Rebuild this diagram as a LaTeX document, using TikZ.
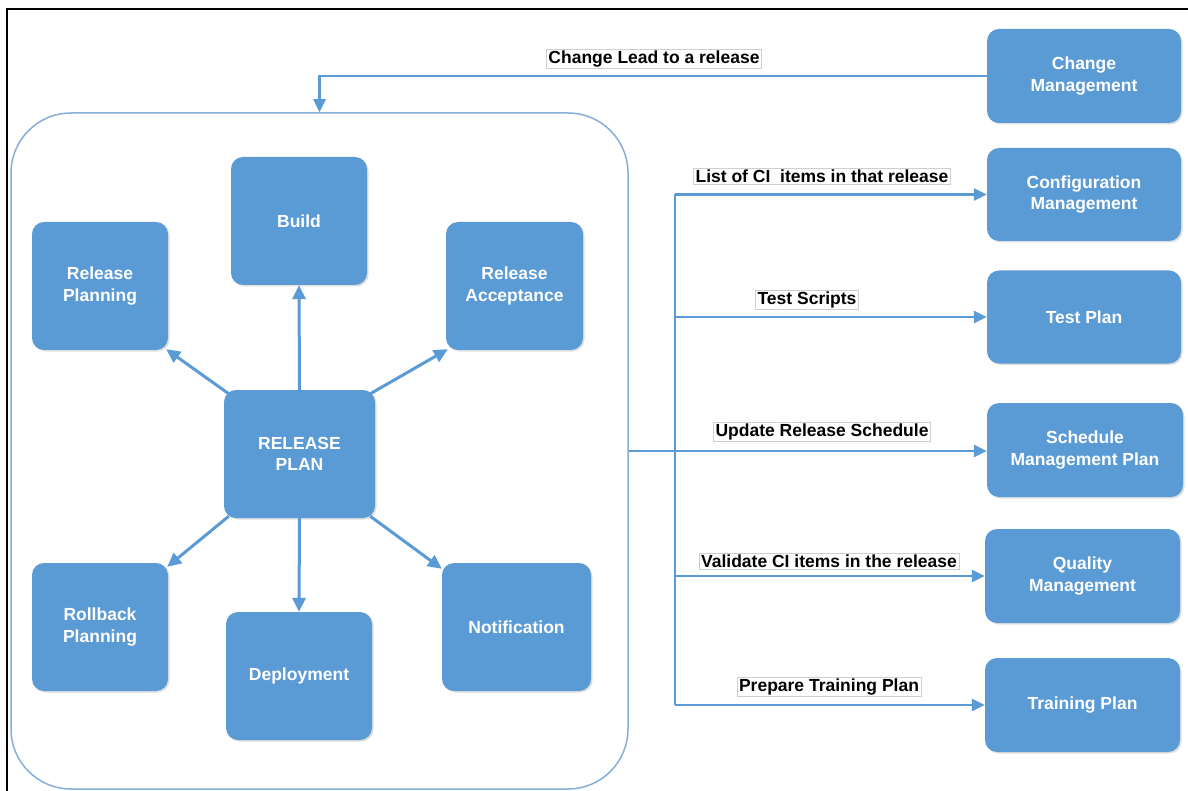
\documentclass[tikz,border=0pt]{standalone}
\usepackage{fontspec}
\setmainfont{Liberation Sans}
\usetikzlibrary{arrows.meta,shadows}
\definecolor{boxblue}{HTML}{5B9BD5}
\definecolor{lineblue}{HTML}{5B9BD5}
\definecolor{contblue}{HTML}{86AEDA}
\definecolor{labgray}{HTML}{CFCFCF}
\begin{document}
\begin{tikzpicture}[x=1pt,y=-1pt,
  box/.style={fill=boxblue, rounded corners=12pt, text=white,
    font=\bfseries\fontsize{17.5}{21.5}\selectfont, align=center, inner sep=0pt,
    drop shadow={opacity=0.25, shadow xshift=1.5pt, shadow yshift=-1.5pt}},
  container/.style={draw=contblue, line width=1.5pt, rounded corners=60pt, inner sep=0pt},
  conn/.style={draw=lineblue, line width=2.5pt, -{Triangle[length=13pt,width=12pt]}},
  star/.style={draw=lineblue, line width=3pt, -{Triangle[length=14pt,width=13pt]}},
  bus/.style={draw=lineblue, line width=2.5pt},
  lab/.style={fill=white, draw=labgray, line width=0.6pt,
    font=\bfseries\fontsize{17.5}{20}\selectfont, inner xsep=2pt, inner ysep=1.5pt}]
\useasboundingbox (0,0) rectangle (1188,791);
\fill[white] (0,0) rectangle (1188,791);
% frame
\draw[line width=2pt, black] (7,791) -- (7,9) -- (1188,9);
% container
\node[container, minimum width=617pt, minimum height=676pt] (cont) at (319.5,451) {};
% inner boxes
\node[box, minimum width=136pt, minimum height=128pt] (build) at (299,221) {Build};
\node[box, minimum width=136pt, minimum height=128pt] (relplan) at (100,286) {Release\\Planning};
\node[box, minimum width=137pt, minimum height=128pt] (relacc) at (514.5,286) {Release\\Acceptance};
\node[box, minimum width=151pt, minimum height=128pt] (rp) at (299.5,454) {RELEASE\\PLAN};
\node[box, minimum width=136pt, minimum height=128pt] (rollback) at (100,627) {Rollback\\Planning};
\node[box, minimum width=146pt, minimum height=128pt] (deploy) at (299,676) {Deployment};
\node[box, minimum width=149pt, minimum height=128pt] (notif) at (516.5,627) {Notification};
% right boxes
\node[box, minimum width=194pt, minimum height=94pt] (change) at (1084,76) {Change\\Management};
\node[box, minimum width=194pt, minimum height=93pt] (config) at (1084,194.5) {Configuration\\Management};
\node[box, minimum width=194pt, minimum height=93pt] (test) at (1084,317) {Test Plan};
\node[box, minimum width=196pt, minimum height=94pt] (sched) at (1085,450) {Schedule\\Management Plan};
\node[box, minimum width=195pt, minimum height=94pt] (quality) at (1082.5,576) {Quality\\Management};
\node[box, minimum width=195pt, minimum height=94pt] (training) at (1082.5,705) {Training Plan};
% star arrows
\draw[star] (rp.north) -- (build.south);
\draw[star] (rp.south) -- (deploy.north);
\draw[star] ([shift={(5,4)}]rp.north west) -- ([shift={(-2,-1)}]relplan.south east);
\draw[star] ([shift={(-5,4)}]rp.north east) -- ([shift={(2,-1)}]relacc.south west);
\draw[star] ([shift={(5,-2)}]rp.south west) -- ([shift={(-1,4)}]rollback.north east);
\draw[star] ([shift={(-5,-2)}]rp.south east) -- ([shift={(0,6)}]notif.north west);
% change lead connector
\draw[conn] (change.west) -| (cont.north);
\node[lab] (l1) at (654,59) {Change Lead to a release};
% bus
\coordinate (bx) at (675,0);
\draw[bus] (bx |- config.west) -- (bx |- training.west);
\draw[conn] (bx |- config.west) -- (config.west);
\draw[conn] (bx |- test.west) -- (test.west);
\draw[conn] (cont.east) -- (cont.east -| sched.west);
\draw[conn] (bx |- quality.west) -- (quality.west);
\draw[conn] (bx |- training.west) -- (training.west);
\node[lab] (l2) at (822,176) {List of CI\ \ items in that release};
\node[lab] (l3) at (807,300) {Test Scripts};
\node[lab] (l4) at (822,432) {Update Release Schedule};
\node[lab] (l5) at (829,561) {Validate CI items in the release};
\node[lab] (l6) at (829,687) {Prepare Training Plan};
\end{tikzpicture}
\end{document}
